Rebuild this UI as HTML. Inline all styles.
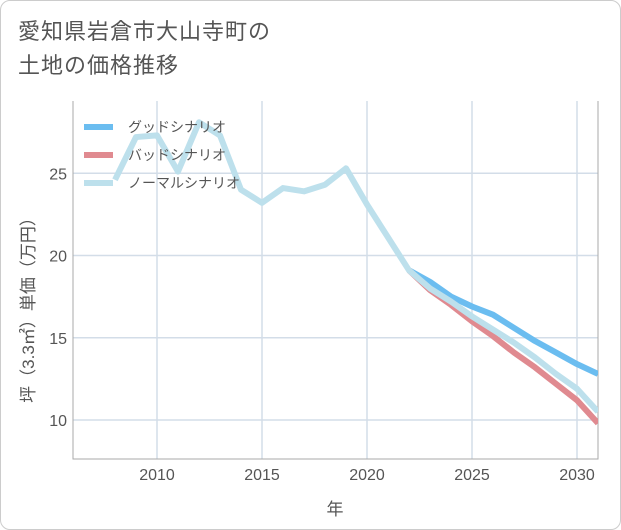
<!DOCTYPE html>
<html><head><meta charset="utf-8"><style>
body{margin:0;background:#fff;font-family:"Liberation Sans","Noto Sans CJK JP",sans-serif;}
#wrap{position:relative;width:619px;height:528px;border:1px solid #ccc;border-radius:10px;overflow:hidden;background:#fff}
#title{position:absolute;left:17px;top:14px;font-size:22px;line-height:34px;color:#555;letter-spacing:1px}
svg{position:absolute;left:0;top:0}
</style></head><body>
<div id="wrap">
<div id="title">愛知県岩倉市大山寺町の<br>土地の価格推移</div>
<svg id="chart" width="621" height="530"></svg>
</div>
<script>
const years=[2008,2009,2010,2011,2012,2013,2014,2015,2016,2017,2018,2019,2020,2021,2022];
const histValues=[24.6,27.2,27.3,25.1,28.1,27.3,24.0,23.2,24.1,23.9,24.3,25.3,23.1,21.1,19.1];
const futureYears=[2022,2023,2024,2025,2026,2027,2028,2029,2030,2031];
const goodValues=[19.1,18.4,17.5,16.9,16.4,15.6,14.8,14.1,13.4,12.8];
const badValues=[19.1,17.9,17.0,16.0,15.1,14.1,13.2,12.2,11.2,9.8];
const normalValues=[19.1,18.0,17.2,16.3,15.5,14.7,13.8,12.8,11.9,10.5];
const xTicks=[2010,2015,2020,2025,2030];
const yTicks=[10,15,20,25];
const seriesNames=["グッドシナリオ","バッドシナリオ","ノーマルシナリオ"];
const colors=["#6bbdf0","#e08a90","#bde0ec"];
const L=72,R=597,T=100,B=458;
const x=y=>L+(y-2006)*(R-L)/25;
const yy=v=>419-(v-10)*16.45;
const svg=document.getElementById('chart');
const NS='http://www.w3.org/2000/svg';
function mk(t,a){const e=document.createElementNS(NS,t);for(const k in a)e.setAttribute(k,a[k]);svg.appendChild(e);return e;}
let clip=mk('clipPath',{id:'pc'});const cr=document.createElementNS(NS,'rect');cr.setAttribute('x',L);cr.setAttribute('y',T);cr.setAttribute('width',R-L);cr.setAttribute('height',B-T);clip.appendChild(cr);
for(const t of xTicks){const g=mk('line',{x1:x(t),x2:x(t),y1:T,y2:B,stroke:'#d3dde8','stroke-width':1.5});

const tx=mk('text',{x:x(t),y:B+21,'text-anchor':'middle','font-size':16,fill:'#555'});tx.textContent=t;
}
for(const t of yTicks){const g=mk('line',{x1:L,x2:R,y1:yy(t),y2:yy(t),stroke:'#d3dde8','stroke-width':1.5});

const tx=mk('text',{x:L-6,y:yy(t)+6,'text-anchor':'end','font-size':16,fill:'#555'});tx.textContent=t;
}
const ax=mk('path',{d:`M${L},${T}V${B}H${R}V${T}`,fill:'none',stroke:'#aaa','stroke-width':1});

function line(xs,vs,c,name){const p=mk('polyline',{points:xs.map((a,i)=>x(a)+','+yy(vs[i])).join(' '),fill:'none',stroke:c,'stroke-width':6,'stroke-linejoin':'round','clip-path':'url(#pc)'});
}
line(futureYears,goodValues,colors[0],'good-scenario-line');
line(futureYears,badValues,colors[1],'bad-scenario-line');
line(years.concat(futureYears.slice(1)),histValues.concat(normalValues.slice(1)),colors[2],'normal-scenario-line');
seriesNames.forEach((n,i)=>{const ly=126+i*28;
const l=mk('line',{x1:83,x2:112,y1:ly,y2:ly,stroke:colors[i],'stroke-width':6});

const t=mk('text',{x:127,y:ly+5,'font-size':14,fill:'#555'});t.textContent=n;
});
const xt=mk('text',{x:334,y:514,'text-anchor':'middle','font-size':17,fill:'#555'});xt.textContent='年';

const yt=mk('text',{x:0,y:0,'text-anchor':'middle','font-size':17,fill:'#555',transform:'translate(33,305) rotate(-90)'});yt.textContent='坪（3.3㎡）単価（万円）';

</script>
</body></html>
